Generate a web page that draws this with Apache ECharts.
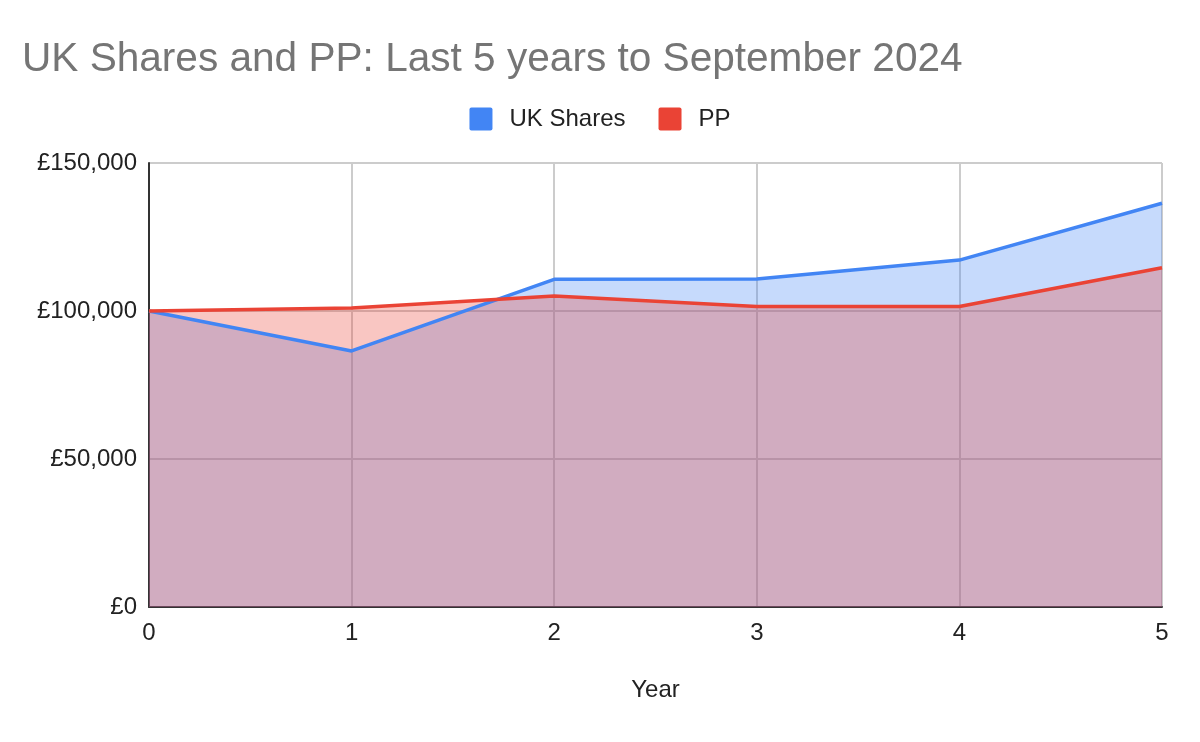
<!DOCTYPE html>
<html>
<head>
<meta charset="utf-8">
<script src="https://cdn.jsdelivr.net/npm/echarts@6/dist/echarts.min.js"></script>
<style>
html,body{margin:0;padding:0;background:#fff;}
#chart{width:1200px;height:742px;}
</style>
</head>
<body>
<div id="chart"></div>
<script>
const years = [0, 1, 2, 3, 4, 5];
const ukShares = [100000, 86500, 110700, 110800, 117200, 136400];
const pp = [100000, 101000, 105100, 101500, 101500, 114600];
const yTicks = [0, 50000, 100000, 150000];

const chart = echarts.init(document.getElementById('chart'));
const font = '"Liberation Sans", Arial, Helvetica, sans-serif';
chart.setOption({
  backgroundColor: '#ffffff',
  animation: false,
  title: {
    text: 'UK Shares and PP: Last 5 years to September 2024',
    left: 17, top: 34,
    textStyle: { fontFamily: font, fontSize: 40.6, fontWeight: 'normal', color: '#757575' }
  },
  legend: {
    top: 102, left: 'center',
    icon: 'path://M2,0 L21,0 Q23,0 23,2 L23,21 Q23,23 21,23 L2,23 Q0,23 0,21 L0,2 Q0,0 2,0 Z',
    itemWidth: 23, itemHeight: 23, itemGap: 33,
    textStyle: { fontFamily: font, fontSize: 24, color: '#222', padding: [0, 0, 0, 12] },
    data: ['UK Shares', 'PP']
  },
  grid: { left: 149, right: 38, top: 163, bottom: 135 },
  xAxis: {
    type: 'value', min: 0, max: 5, interval: 1,
    name: 'Year', nameLocation: 'middle', nameGap: 71,
    nameTextStyle: { fontFamily: font, fontSize: 24, color: '#222' },
    axisLine: { show: true, onZero: false, lineStyle: { color: '#333', width: 2 } },
    axisTick: { show: false },
    axisLabel: { fontFamily: font, fontSize: 24, color: '#222', margin: 14,
      formatter: v => years.includes(v) ? String(v) : '' },
    splitLine: { show: true, lineStyle: { color: '#cccccc', width: 2 } }
  },
  yAxis: {
    type: 'value', min: yTicks[0], max: yTicks[yTicks.length - 1], interval: 50000,
    axisLine: { show: true, lineStyle: { color: '#333', width: 2 } },
    axisTick: { show: false },
    axisLabel: { fontFamily: font, fontSize: 24, color: '#222', margin: 12,
      formatter: v => '£' + v.toLocaleString('en-GB') },
    splitLine: { show: true, lineStyle: { color: '#cccccc', width: 2 } }
  },
  series: [
    {
      name: 'UK Shares', type: 'line', showSymbol: false, symbol: 'none',
      data: years.map((x, i) => [x, ukShares[i]]),
      lineStyle: { color: '#4285F4', width: 3.5 },
      itemStyle: { color: '#4285F4' },
      areaStyle: { color: '#4285F4', opacity: 0.3 }
    },
    {
      name: 'PP', type: 'line', showSymbol: false, symbol: 'none',
      data: years.map((x, i) => [x, pp[i]]),
      lineStyle: { color: '#EA4335', width: 3.5 },
      itemStyle: { color: '#EA4335' },
      areaStyle: { color: '#EA4335', opacity: 0.3 }
    }
  ]
});
</script>
</body>
</html>
